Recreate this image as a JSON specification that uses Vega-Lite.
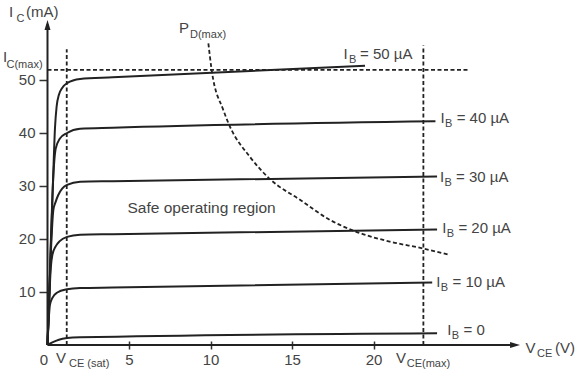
{
  "$schema": "https://vega.github.io/schema/vega-lite/v6.json",
  "width": 579,
  "height": 371,
  "autosize": {"type": "none"},
  "padding": 0,
  "background": "white",
  "config": {"view": {"stroke": null}, "font": "Liberation Sans"},
  "encoding": {
    "x": {"field": "v", "type": "quantitative",
      "scale": {"domain": [-2.914, 32.607], "nice": false, "zero": false},
      "axis": {"values": [0, 5, 10, 15, 20], "title": null, "domain": false, "grid": false,
        "offset": -30, "tickSize": 8, "tickWidth": 1.5, "tickColor": "#333",
        "tickOpacity": {"condition": {"test": "datum.value == 0", "value": 0}, "value": 1},
        "labelAlign": {"condition": {"test": "datum.value == 0", "value": "right"}, "value": "center"},
        "labelPadding": 3, "labelFont": "Liberation Sans", "labelFontSize": 15, "labelColor": "#444"}},
    "y": {"field": "i", "type": "quantitative",
      "scale": {"domain": [-4.906, 65.094], "nice": false, "zero": false},
      "axis": {"values": [10, 20, 30, 40, 50], "title": null, "domain": false, "grid": false,
        "offset": -47.5, "tickSize": 8.5, "tickWidth": 1.5, "tickColor": "#333",
        "labelPadding": 4, "labelFont": "Liberation Sans", "labelFontSize": 15, "labelColor": "#444"}}
  },
  "layer": [
    {
      "data": {"values": [
        {"v": 0, "i": 0, "v2": 28.6, "i2": 0},
        {"v": 0, "i": 0, "v2": 0, "i2": 60.5}
      ]},
      "mark": {"type": "rule", "color": "#222", "strokeWidth": 2},
      "encoding": {"x2": {"field": "v2"}, "y2": {"field": "i2"}}
    },
    {
      "data": {"values": [
        {"v": 28.99, "i": 0, "dir": "x"},
        {"v": 0, "i": 61.3, "dir": "y"}
      ]},
      "mark": {"type": "point", "filled": true, "color": "#222", "opacity": 1, "size": 400, "strokeWidth": 0},
      "encoding": {"shape": {"field": "dir", "type": "nominal", "legend": null,
        "scale": {"domain": ["x", "y"], "range": ["M0,0L-1,-0.3L-1,0.3Z", "M0,0L-0.3,1L0.3,1Z"]}}}
    },
    {
      "data": {"values": [
        {"v": 0, "i": 51.9, "v2": 25.8, "i2": 51.9},
        {"v": 1.18, "i": 0, "v2": 1.18, "i2": 55.8},
        {"v": 23.06, "i": 0, "v2": 23.06, "i2": 56.5}
      ]},
      "mark": {"type": "rule", "color": "#222", "strokeWidth": 1.8, "strokeDash": [4, 2.5]},
      "encoding": {"x2": {"field": "v2"}, "y2": {"field": "i2"}}
    },
    {
      "data": {"values": [
        {"v": 9.87, "i": 56.9}, {"v": 10.07, "i": 51.9}, {"v": 10.79, "i": 44.3},
        {"v": 11.15, "i": 41.5}, {"v": 12.42, "i": 35.5}, {"v": 13.65, "i": 31.3},
        {"v": 15.49, "i": 27.4}, {"v": 17.33, "i": 23.6}, {"v": 18.91, "i": 21.4},
        {"v": 21.01, "i": 19.5}, {"v": 23.06, "i": 18.2}, {"v": 24.65, "i": 17.0}
      ]},
      "mark": {"type": "line", "color": "#222", "strokeWidth": 1.8, "strokeDash": [4, 2.5], "interpolate": "monotone"},
      "encoding": {}
    },
    {
      "data": {"values": [
        {"ib": 50, "v": 0, "i": 0}, {"ib": 50, "v": 0.1, "i": 8}, {"ib": 50, "v": 0.2, "i": 18},
        {"ib": 50, "v": 0.35, "i": 32}, {"ib": 50, "v": 0.46, "i": 41}, {"ib": 50, "v": 0.56, "i": 45},
        {"ib": 50, "v": 0.7, "i": 47.2}, {"ib": 50, "v": 0.9, "i": 48.5}, {"ib": 50, "v": 1.2, "i": 49.4},
        {"ib": 50, "v": 2, "i": 50.2}, {"ib": 50, "v": 4, "i": 50.5}, {"ib": 50, "v": 19.48, "i": 52.7},
        {"ib": 40, "v": 0, "i": 0}, {"ib": 40, "v": 0.1, "i": 9}, {"ib": 40, "v": 0.2, "i": 19},
        {"ib": 40, "v": 0.3, "i": 28}, {"ib": 40, "v": 0.4, "i": 34}, {"ib": 40, "v": 0.5, "i": 37},
        {"ib": 40, "v": 0.75, "i": 38.9}, {"ib": 40, "v": 1.2, "i": 40}, {"ib": 40, "v": 2, "i": 40.8},
        {"ib": 40, "v": 4, "i": 41}, {"ib": 40, "v": 23.8, "i": 42.2},
        {"ib": 30, "v": 0, "i": 0}, {"ib": 30, "v": 0.1, "i": 9}, {"ib": 30, "v": 0.2, "i": 17},
        {"ib": 30, "v": 0.36, "i": 25.5}, {"ib": 30, "v": 0.5, "i": 27}, {"ib": 30, "v": 0.66, "i": 28.3},
        {"ib": 30, "v": 0.9, "i": 29.5}, {"ib": 30, "v": 1.2, "i": 30.2}, {"ib": 30, "v": 2, "i": 30.8},
        {"ib": 30, "v": 4, "i": 30.9}, {"ib": 30, "v": 23.9, "i": 31.8},
        {"ib": 20, "v": 0, "i": 0}, {"ib": 20, "v": 0.1, "i": 8}, {"ib": 20, "v": 0.2, "i": 14.5},
        {"ib": 20, "v": 0.3, "i": 17}, {"ib": 20, "v": 0.5, "i": 18.6}, {"ib": 20, "v": 0.75, "i": 19.6},
        {"ib": 20, "v": 1.2, "i": 20.4}, {"ib": 20, "v": 2, "i": 20.8}, {"ib": 20, "v": 4, "i": 20.9},
        {"ib": 20, "v": 23.9, "i": 21.8},
        {"ib": 10, "v": 0, "i": 0}, {"ib": 10, "v": 0.08, "i": 5}, {"ib": 10, "v": 0.15, "i": 7.6},
        {"ib": 10, "v": 0.3, "i": 8.9}, {"ib": 10, "v": 0.6, "i": 9.9}, {"ib": 10, "v": 1.2, "i": 10.5},
        {"ib": 10, "v": 2, "i": 10.75}, {"ib": 10, "v": 4, "i": 10.85}, {"ib": 10, "v": 23.6, "i": 11.8},
        {"ib": 0, "v": 0, "i": 0}, {"ib": 0, "v": 0.3, "i": 0.5}, {"ib": 0, "v": 0.7, "i": 1.0},
        {"ib": 0, "v": 1.2, "i": 1.3}, {"ib": 0, "v": 2, "i": 1.45}, {"ib": 0, "v": 23.9, "i": 2.2}
      ]},
      "mark": {"type": "line", "color": "#222", "strokeWidth": 2, "interpolate": "monotone"},
      "encoding": {"detail": {"field": "ib", "type": "nominal"}}
    },
    {
      "data": {"values": [
        {"v": -2.362, "i": 61.89, "t": "I"},
        {"v": -1.319, "i": 61.89, "t": "(mA)"},
        {"v": -2.73, "i": 53.4, "t": "I"},
        {"v": 8.067, "i": 58.81, "t": "P"},
        {"v": 18.16, "i": 53.96, "t": "I"},
        {"v": 19.17, "i": 53.96, "t": "= 50 µA"},
        {"v": 24.11, "i": 41.83, "t": "I"},
        {"v": 25.1, "i": 41.83, "t": "= 40 µA"},
        {"v": 24.08, "i": 30.7, "t": "I"},
        {"v": 25.06, "i": 30.7, "t": "= 30 µA"},
        {"v": 24.22, "i": 21.19, "t": "I"},
        {"v": 25.21, "i": 21.19, "t": "= 20 µA"},
        {"v": 23.85, "i": 11.0, "t": "I"},
        {"v": 24.85, "i": 11.0, "t": "= 10 µA"},
        {"v": 24.53, "i": 1.89, "t": "I"},
        {"v": 25.52, "i": 1.89, "t": "= 0"},
        {"v": 29.33, "i": -1.566, "t": "V"},
        {"v": 31.13, "i": -1.566, "t": "(V)"},
        {"v": 0.521, "i": -3.396, "t": "V"},
        {"v": 21.38, "i": -3.396, "t": "V"}
      ]},
      "mark": {"type": "text", "align": "left", "baseline": "alphabetic", "font": "Liberation Sans", "fontSize": 15, "color": "#444"},
      "encoding": {"text": {"field": "t"}}
    },
    {
      "data": {"values": [
        {"v": -1.902, "i": 61.0, "t": "C"},
        {"v": -2.515, "i": 52.21, "t": "C(max)"},
        {"v": 8.742, "i": 57.87, "t": "D(max)"},
        {"v": 18.5, "i": 53.15, "t": "B"},
        {"v": 24.39, "i": 41.08, "t": "B"},
        {"v": 24.36, "i": 29.94, "t": "B"},
        {"v": 24.5, "i": 20.43, "t": "B"},
        {"v": 24.13, "i": 10.25, "t": "B"},
        {"v": 24.8, "i": 1.13, "t": "B"},
        {"v": 30.03, "i": -2.21, "t": "CE"},
        {"v": 1.319, "i": -4.057, "t": "CE (sat)"},
        {"v": 22.04, "i": -4.21, "t": "CE(max)"}
      ]},
      "mark": {"type": "text", "align": "left", "baseline": "alphabetic", "font": "Liberation Sans", "fontSize": 11, "color": "#444"},
      "encoding": {"text": {"field": "t"}}
    },
    {
      "data": {"values": [
        {"v": 4.908, "i": 24.91, "t": "Safe operating region"}
      ]},
      "mark": {"type": "text", "align": "left", "baseline": "alphabetic", "font": "Liberation Sans", "fontSize": 15.5, "color": "#444"},
      "encoding": {"text": {"field": "t"}}
    }
  ]
}
